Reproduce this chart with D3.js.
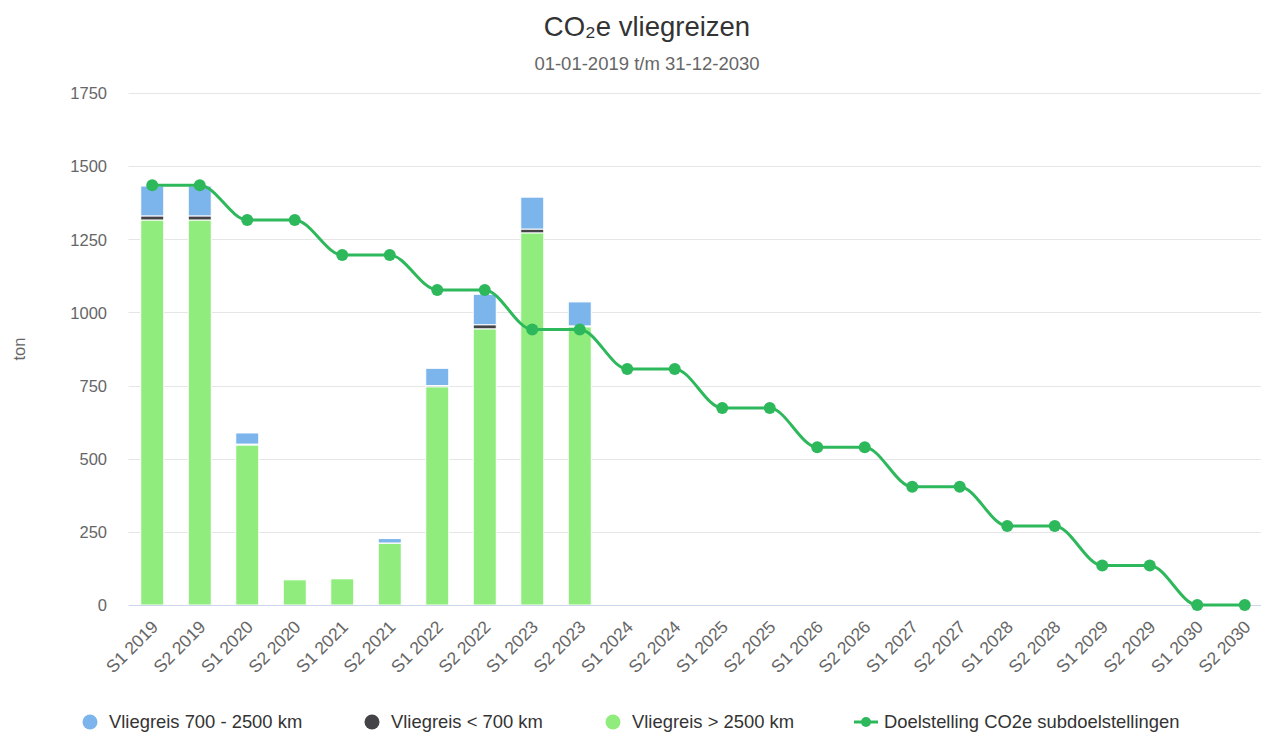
<!DOCTYPE html>
<html><head><meta charset="utf-8">
<script src="https://cdn.jsdelivr.net/npm/d3@7"></script>
<style>
body{margin:0;background:#fff;}
svg{font-family:"Liberation Sans",Arial,sans-serif;}
</style></head>
<body>
<svg id="chart" width="1261" height="733"></svg>
<script>
const categories = ["S1 2019","S2 2019","S1 2020","S2 2020","S1 2021","S2 2021","S1 2022","S2 2022","S1 2023","S2 2023","S1 2024","S2 2024","S1 2025","S2 2025","S1 2026","S2 2026","S1 2027","S2 2027","S1 2028","S2 2028","S1 2029","S2 2029","S1 2030","S2 2030"];
const mid = [102, 102, 38, 0, 2, 15, 59, 104, 109, 82];      // Vliegreis 700 - 2500 km
const short = [14, 14, 3, 0, 0, 1, 4, 14, 13, 3];            // Vliegreis < 700 km
const long = [1316, 1316, 547, 86, 90, 211, 746, 944, 1272, 951]; // Vliegreis > 2500 km
const target = [1435,1435,1316,1316,1196,1196,1077,1077,942,942,807,807,673,673,539,539,404,404,270,270,135,135,0,0];
const yTicks = [0,250,500,750,1000,1250,1500,1750];
const seriesNames = ["Vliegreis 700 - 2500 km","Vliegreis < 700 km","Vliegreis > 2500 km","Doelstelling CO2e subdoelstellingen"];
const colors = ["#7cb5ec","#434348","#90ed7d","#2eb85c"];

const svg = d3.select("#chart");
const pLeft = 128.5, pRight = 1268.5, pTop = 93, pBottom = 605;

const x = d3.scaleBand().domain(categories).range([pLeft, pRight]);
const y = d3.scaleLinear().domain([0, 1750]).range([pBottom, pTop]);

// title
svg.append("text").attr("x", 647).attr("y", 36).attr("text-anchor","middle")
  .attr("font-size", 27.5).attr("fill", "#333").text("CO₂e vliegreizen");
svg.append("text").attr("x", 647).attr("y", 70).attr("text-anchor","middle")
  .attr("font-size", 18.5).attr("fill", "#666").text("01-01-2019 t/m 31-12-2030");

// grid
svg.append("g").selectAll("line").data(yTicks.filter(d=>d>0)).join("line")
  .attr("x1", pLeft).attr("x2", 1261).attr("y1", d=>Math.round(y(d))+0.5).attr("y2", d=>Math.round(y(d))+0.5)
  .attr("stroke", "#e6e6e6").attr("stroke-width", 1);

// y labels
const yAxis = d3.axisLeft(y).tickValues(yTicks).tickFormat(d3.format("d")).tickSize(0).tickPadding(0);
const gy = svg.append("g").attr("transform", `translate(107,0)`).call(yAxis);
gy.select(".domain").remove();
gy.selectAll("text").attr("font-size", 16.5).attr("fill", "#666").attr("font-family","Liberation Sans, Arial, sans-serif").attr("dy","0.35em");

svg.append("text").attr("transform","translate(25,349) rotate(-90)").attr("text-anchor","middle")
  .attr("font-size", 16.5).attr("fill","#666").text("ton");

// stacked bars
const rows = long.map((v,i)=>({cat:categories[i], long:v, short:short[i], mid:mid[i]}));
const stack = d3.stack().keys(["long","short","mid"]);
const stacked = stack(rows);
const colorByKey = {long: colors[2], short: colors[1], mid: colors[0]};
const barW = 23;
svg.append("g").selectAll("g").data(stacked).join("g")
  .attr("fill", d=>colorByKey[d.key])
  .selectAll("rect").data(d=>d.filter(s=>s[1]-s[0]>0)).join("rect")
  .attr("x", d=>x(d.data.cat)+x.bandwidth()/2-barW/2)
  .attr("width", barW)
  .attr("y", d=>y(d[1]))
  .attr("height", d=>y(d[0])-y(d[1]))
  .attr("stroke","#fff").attr("stroke-width",1);

// x axis
svg.append("line").attr("x1", pLeft).attr("x2", 1261).attr("y1", pBottom+0.5).attr("y2", pBottom+0.5)
  .attr("stroke","#ccd6eb").attr("stroke-width",1);
const xAxis = d3.axisBottom(x).tickSize(0).tickPadding(0);
const gx = svg.append("g").attr("transform", `translate(0,${pBottom})`).call(xAxis);
gx.select(".domain").remove();
gx.selectAll("text").attr("font-size", 17.5).attr("fill","#666").attr("font-family","Liberation Sans, Arial, sans-serif")
  .attr("text-anchor","end").attr("dy", null).attr("y", 0)
  .attr("transform","translate(7,23) rotate(-45)");

// target line
const line = d3.line().x((d,i)=>x(categories[i])+x.bandwidth()/2).y(d=>y(d)).curve(d3.curveMonotoneX);
svg.append("path").datum(target).attr("d", line).attr("fill","none").attr("stroke", colors[3]).attr("stroke-width", 3);
svg.append("g").selectAll("circle").data(target).join("circle")
  .attr("cx",(d,i)=>x(categories[i])+x.bandwidth()/2).attr("cy", d=>y(d)).attr("r", 6)
  .attr("fill", colors[3]);

// legend
const lg = svg.append("g");
const legendX = [90, 372, 613, 866];
const ly = 722;
seriesNames.forEach((name,i)=>{
  if(i<3){
    lg.append("circle").attr("cx", legendX[i]).attr("cy", ly).attr("r", 7.5).attr("fill", colors[i]);
    lg.append("text").attr("x", legendX[i]+19).attr("y", ly).attr("dy","0.35em")
      .attr("font-size",18.4).attr("fill","#333").text(name);
  } else {
    lg.append("line").attr("x1", legendX[i]-12).attr("x2", legendX[i]+12).attr("y1", ly).attr("y2", ly)
      .attr("stroke", colors[3]).attr("stroke-width",3);
    lg.append("circle").attr("cx", legendX[i]).attr("cy", ly).attr("r", 5).attr("fill", colors[3]);
    lg.append("text").attr("x", legendX[i]+18).attr("y", ly).attr("dy","0.35em")
      .attr("font-size",18.4).attr("fill","#333").text(name);
  }
});
</script>
</body></html>
